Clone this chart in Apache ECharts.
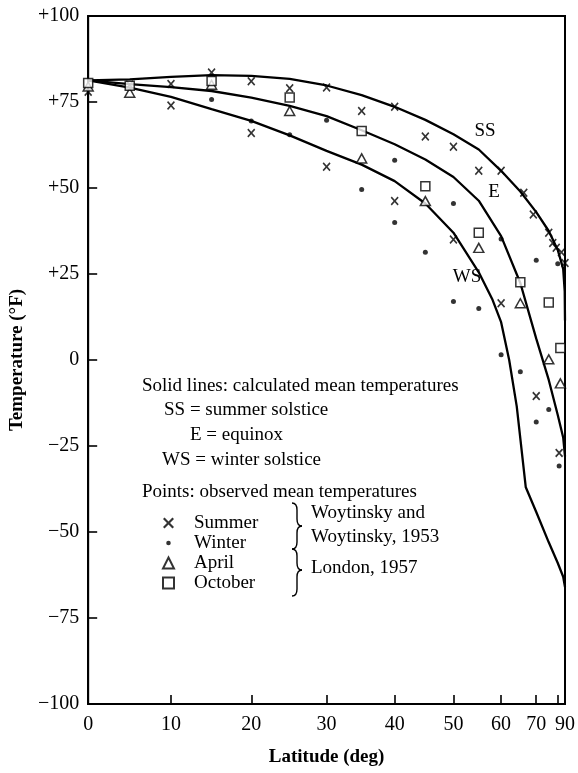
<!DOCTYPE html>
<html>
<head>
<meta charset="utf-8">
<script src="https://cdn.jsdelivr.net/npm/echarts@6/dist/echarts.min.js"></script>
<style>
html,body{margin:0;padding:0;background:#fff;}
#chart{width:578px;height:773px;}
</style>
</head>
<body>
<div id="chart"></div>
<script>
// ---------- data (latitude in degrees, temperature in °F) ----------
// calculated mean temperatures (solid lines)
const ssLat = [0, 5, 10, 15, 20, 25, 30, 35, 40, 45, 50, 55, 60, 65, 70, 75, 80, 85, 88, 90];
const ssTemp = [81.3, 81.6, 82.3, 82.8, 82.6, 81.7, 79.8, 77.0, 73.6, 69.8, 65.6, 61.2, 55.0, 49.0, 43.0, 37.5, 32.0, 26.5, 20.0, 11.5];
const eLat = [0, 5, 10, 15, 20, 25, 30, 35, 40, 45, 50, 55, 60, 65, 70, 75, 80, 85, 90];
const eTemp = [81.3, 80.2, 79.3, 78.2, 76.3, 73.9, 70.9, 66.8, 62.7, 58.3, 53.2, 46.3, 36.0, 22.4, 6.2, -5.8, -16.0, -22.5, -28.0];
const wsLat = [0, 5, 10, 15, 20, 25, 30, 35, 40, 45, 50, 55, 58, 60, 62, 64, 66.6, 70, 75, 80, 85, 90];
const wsTemp = [81.3, 79.2, 76.5, 72.9, 69.5, 65.3, 60.8, 56.8, 52.0, 45.5, 37.0, 25.5, 17.5, 11.0, 0.0, -13.5, -37.0, -44.2, -53.0, -59.0, -63.0, -66.0];

// observed mean temperatures (points)
const summerLat = [0, 5, 10, 10, 15, 20, 20, 25, 30, 30, 35, 40, 40, 45, 50, 50, 55, 60, 60, 66, 69, 70, 75, 77, 79, 81, 83, 90];
const summerTemp = [78, 80, 80.2, 74, 83.6, 81, 66, 79, 79.2, 56.2, 72.4, 73.6, 46.2, 65, 62, 35, 55, 55, 16.5, 48.6, 42.3, -10.5, 37, 34, 32.6, -27, 31.3, 28.2];
const winterLat = [15, 20, 25, 30, 35, 40, 40, 45, 50, 50, 55, 60, 60, 65, 70, 70, 75, 80, 81];
const winterTemp = [75.7, 69.5, 65.5, 69.7, 49.6, 58.1, 40, 31.3, 45.5, 17, 15, 35.2, 1.5, -3.4, 29, -18, -14.4, 28, -30.8];
const aprilLat = [0, 5, 15, 25, 35, 45, 55, 65, 75, 82];
const aprilTemp = [79.5, 77.7, 80, 72.4, 58.6, 46.2, 32.6, 16.5, 0.2, -6.8];
const octoberLat = [0, 5, 15, 25, 35, 45, 55, 65, 75, 82];
const octoberTemp = [80.5, 79.7, 81.1, 76.3, 66.6, 50.5, 37, 22.6, 16.7, 3.5];

// axis ticks
const xTickLat = [0, 10, 20, 30, 40, 50, 60, 70, 80, 90];
const xTickLabels = ['0', '10', '20', '30', '40', '50', '60', '70', '', '90'];
const yTickValues = [-100, -75, -50, -25, 0, 25, 50, 75, 100];
const yTickLabels = ['\u2212100', '\u221275', '\u221250', '\u221225', '0', '+25', '+50', '+75', '+100'];

// ---------- helpers ----------
const FONT = '"Liberation Serif", "DejaVu Serif", serif';
const FS = 19;
const TICK_FS = 20;
const sinLat = lat => Math.sin(lat * Math.PI / 180);   // axis is linear in sin(latitude)
const pts = (lats, temps) => lats.map((l, i) => [sinLat(l), temps[i]]);
const xTickPos = xTickLat.map(sinLat);

const crossPath = 'path://M0,1.4L1.4,0L5,3.6L8.6,0L10,1.4L6.4,5L10,8.6L8.6,10L5,6.4L1.4,10L0,8.6L3.6,5Z';
const dotIcon = 'path://M0,0M12,12M3.5,6A2.5,2.5,0,1,1,8.5,6A2.5,2.5,0,1,1,3.5,6Z';

function curve(name, lats, temps) {
  return {
    name: name, type: 'line', data: pts(lats, temps), showSymbol: false, silent: true,
    lineStyle: { color: '#000', width: 2.3 }, z: 2
  };
}

function txt(x, y, s, align) {
  return {
    type: 'text', x: x, y: y, silent: true,
    style: { text: s, fontFamily: FONT, fontSize: FS, fill: '#000', verticalAlign: 'middle', align: align || 'left' }
  };
}

function brace(x, y0, y1, tipY) {
  const w = 5, r = 7;
  const ls = { stroke: '#000', lineWidth: 1.4, fill: null };
  return [
    { type: 'bezierCurve', silent: true, shape: { x1: x, y1: y0, cpx1: x + w, cpy1: y0, x2: x + w, y2: y0 + r }, style: ls },
    { type: 'line', silent: true, shape: { x1: x + w, y1: y0 + r, x2: x + w, y2: tipY - r }, style: ls },
    { type: 'bezierCurve', silent: true, shape: { x1: x + w, y1: tipY - r, cpx1: x + w, cpy1: tipY, x2: x + 2 * w, y2: tipY }, style: ls },
    { type: 'bezierCurve', silent: true, shape: { x1: x + 2 * w, y1: tipY, cpx1: x + w, cpy1: tipY, x2: x + w, y2: tipY + r }, style: ls },
    { type: 'line', silent: true, shape: { x1: x + w, y1: tipY + r, x2: x + w, y2: y1 - r }, style: ls },
    { type: 'bezierCurve', silent: true, shape: { x1: x + w, y1: y1 - r, cpx1: x + w, cpy1: y1, x2: x, y2: y1 }, style: ls }
  ];
}

const chart = echarts.init(document.getElementById('chart'), null, { renderer: 'canvas' });

const option = {
  animation: false,
  backgroundColor: '#fff',
  textStyle: { fontFamily: FONT, color: '#000' },
  grid: {
    left: 87, top: 16, width: 481, height: 688,
    show: true, borderColor: '#000', borderWidth: 2, backgroundColor: 'transparent'
  },
  xAxis: {
    type: 'value', min: 0, max: 1,
    name: 'Latitude (deg)', nameLocation: 'middle', nameGap: 44,
    nameTextStyle: { fontFamily: FONT, fontSize: FS, fontWeight: 'bold', color: '#000' },
    axisLine: { onZero: false, lineStyle: { color: '#000', width: 2 } },
    axisTick: { inside: true, length: 9, customValues: xTickPos, lineStyle: { color: '#000', width: 1.6 } },
    axisLabel: {
      customValues: xTickPos, margin: 11, fontFamily: FONT, fontSize: TICK_FS, color: '#000',
      formatter: v => { const i = xTickPos.findIndex(p => Math.abs(p - v) < 1e-6); return i >= 0 ? xTickLabels[i] : ''; }
    },
    splitLine: { show: false }
  },
  yAxis: {
    type: 'value', min: -100, max: 100, interval: 25,
    name: 'Temperature (\u00B0F)', nameLocation: 'middle', nameGap: 57,
    nameTextStyle: { fontFamily: FONT, fontSize: FS, fontWeight: 'bold', color: '#000' },
    axisLine: { onZero: false, lineStyle: { color: '#000', width: 2 } },
    axisTick: { inside: true, length: 9, lineStyle: { color: '#000', width: 1.6 } },
    axisLabel: {
      margin: 9, fontFamily: FONT, fontSize: TICK_FS, color: '#000',
      formatter: v => { const i = yTickValues.indexOf(v); return i >= 0 ? yTickLabels[i] : ''; }
    },
    splitLine: { show: false }
  },
  legend: {
    data: [
      { name: 'Summer', icon: crossPath },
      { name: 'Winter', icon: dotIcon },
      { name: 'April' },
      { name: 'October' }
    ],
    orient: 'vertical', left: 157, top: 508,
    itemWidth: 11, itemHeight: 11, itemGap: 0,
    selectedMode: false,
    textStyle: { fontFamily: FONT, fontSize: FS, color: '#000', lineHeight: 20, padding: [0, 0, 0, 15] }
  },
  graphic: [
    txt(142, 386, 'Solid lines: calculated mean temperatures'),
    txt(164, 410, 'SS = summer solstice'),
    txt(190, 435, 'E = equinox'),
    txt(162, 460, 'WS = winter solstice'),
    txt(142, 492, 'Points: observed mean temperatures'),
    txt(311, 513, 'Woytinsky and'),
    txt(311, 537, 'Woytinsky, 1953'),
    txt(311, 568, 'London, 1957'),
    txt(485, 131, 'SS', 'center'),
    txt(494, 192, 'E', 'center'),
    txt(467, 277, 'WS', 'center')
  ].concat(brace(292, 503, 549, 526)).concat(brace(292, 549, 596, 570)),
  series: [
    curve('SS', ssLat, ssTemp),
    curve('E', eLat, eTemp),
    curve('WS', wsLat, wsTemp),
    {
      name: 'Summer', type: 'scatter', data: pts(summerLat, summerTemp),
      symbol: crossPath, symbolSize: [8, 9], itemStyle: { color: '#000' }, z: 3
    },
    {
      name: 'Winter', type: 'scatter', data: pts(winterLat, winterTemp),
      symbol: 'circle', symbolSize: 5, itemStyle: { color: '#000' }, z: 3
    },
    {
      name: 'April', type: 'scatter', data: pts(aprilLat, aprilTemp),
      symbol: 'triangle', symbolSize: [10, 9], itemStyle: { color: '#fff', borderColor: '#000', borderWidth: 1.5 }, z: 3
    },
    {
      name: 'October', type: 'scatter', data: pts(octoberLat, octoberTemp),
      symbol: 'rect', symbolSize: 9, itemStyle: { color: '#fff', borderColor: '#000', borderWidth: 1.5 }, z: 3
    }
  ]
};

chart.setOption(option);
</script>
</body>
</html>
